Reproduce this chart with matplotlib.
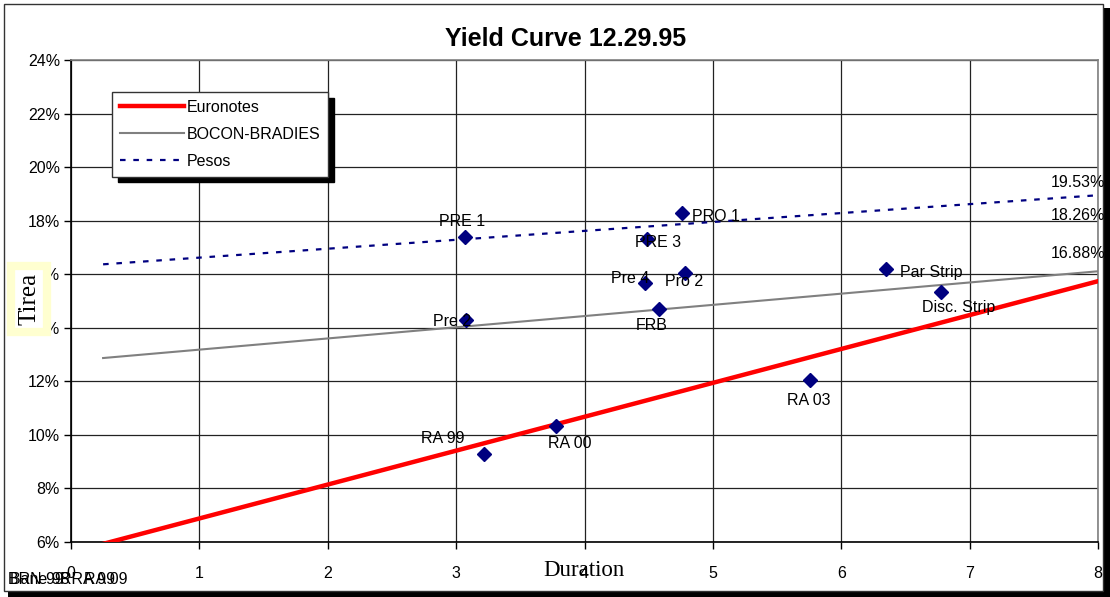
import matplotlib
matplotlib.use("Agg")
import matplotlib.pyplot as plt
from matplotlib.patches import Rectangle

plt.rcParams['font.family'] = ['Liberation Sans', 'DejaVu Sans']

# Bond points: name, duration, yield (%)
bond_names = ["PRE 1", "PRO 1", "PRE 3", "Pre 4", "Pro 2", "Pre 2", "FRB",
              "Par Strip", "Disc. Strip", "RA 99", "RA 00", "RA 03"]
bond_duration = [3.07, 4.76, 4.49, 4.47, 4.78, 3.08, 4.58, 6.35, 6.78, 3.22, 3.78, 5.76]
bond_yield = [17.38, 18.28, 17.31, 15.66, 16.04, 14.28, 14.69, 16.19, 15.33, 9.28, 10.33, 12.04]
# label offsets in pixels (dx, dy) relative to each point
label_offsets = [(-3, 16), (10, -3), (11, -3), (-15, 5), (-1, -8), (-14, -1), (-7, -16),
                 (14, -3), (17, -15), (-42, 16), (13, -17), (-2, -20)]
label_ha = ["center", "left", "center", "center", "center", "center", "center",
            "left", "center", "center", "center", "center"]

# Fitted curves: duration span and yields at both ends
curve_x = [0.25, 8.0]
euronotes_y = [5.93, 15.74]
bocon_y = [12.87, 16.11]
pesos_y = [16.37, 18.95]

end_labels = ["19.53%", "18.26%", "16.88%"]
end_label_y = [19.43, 18.20, 16.78]

x_ticks = [0, 1, 2, 3, 4, 5, 6, 7, 8]
y_ticks = [6, 8, 10, 12, 14, 16, 18, 20, 22, 24]

FS = 11.5

W, H = 1110, 597
fig = plt.figure(figsize=(W / 100, H / 100), dpi=100)
fig.patch.set_facecolor("white")

# outer chart frame with drop shadow
fig.add_artist(Rectangle((1104 / W, 0), 6 / W, 1 - 8 / H, transform=fig.transFigure,
                         facecolor="black", edgecolor="none", zorder=-1))
fig.add_artist(Rectangle((8 / W, 0), 1 - 8 / W, 6 / H, transform=fig.transFigure,
                         facecolor="black", edgecolor="none", zorder=-1))
fig.add_artist(Rectangle((4 / W, 6 / H), 1099 / W, 1 - 10 / H, transform=fig.transFigure,
                         facecolor="none", edgecolor="#333333", lw=1.0, zorder=-1))

ax = fig.add_axes([71 / W, 1 - 542 / H, (1098 - 71) / W, (542 - 60) / H])
ax.set_xlim(0, 8)
ax.set_ylim(6, 24)

ax.set_xticks(x_ticks)
ax.set_yticks(y_ticks)
ax.set_yticklabels([f"{v}%" for v in y_ticks])
ax.tick_params(axis="both", direction="out", length=5, width=1, labelsize=FS, colors="black")
ax.tick_params(axis="y", pad=3)
ax.tick_params(axis="x", pad=12)

ax.grid(True, color="#222222", lw=0.9)
ax.set_axisbelow(True)
ax.spines["left"].set_color("black")
ax.spines["bottom"].set_color("black")
ax.spines["top"].set_color("#808080")
ax.spines["right"].set_color("#808080")
for s in ax.spines.values():
    s.set_linewidth(1.2)

ax.plot(curve_x, euronotes_y, color="#ff0000", lw=3.2, label="Euronotes", zorder=3)
ax.plot(curve_x, bocon_y, color="#808080", lw=1.5, label="BOCON-BRADIES", zorder=3)
ax.plot(curve_x, pesos_y, color="#000080", lw=1.6, ls=(0, (2.5, 3.5)), label="Pesos", zorder=3)

ax.plot(bond_duration, bond_yield, ls="none", marker="D", ms=7.5, color="#000080", zorder=4)

for name, x, y, (dx, dy), ha in zip(bond_names, bond_duration, bond_yield, label_offsets, label_ha):
    ax.annotate(name, (x, y), xytext=(dx, dy), textcoords="offset pixels",
                ha=ha, va="center", fontsize=FS, color="black", zorder=5)

for txt, y in zip(end_labels, end_label_y):
    ax.annotate(txt, (8, y), xytext=(7, 0), textcoords="offset pixels",
                ha="right", va="center", fontsize=FS, color="black",
                annotation_clip=False, zorder=5)

ax.set_title("Yield Curve 12.29.95", fontsize=18, fontweight="bold", pad=10,
             x=(566 - 71) / (1098 - 71))

leg = ax.legend(loc="upper left", bbox_to_anchor=(112 / W, 1 - 92 / H),
                bbox_transform=fig.transFigure, borderaxespad=0, fontsize=FS,
                handlelength=4.0, handletextpad=0.15, labelspacing=0.75,
                borderpad=0.5, fancybox=False, frameon=True,
                shadow={"color": "black", "alpha": 1.0, "ox": 4, "oy": -4})
leg.get_frame().set_edgecolor("#333333")
leg.get_frame().set_linewidth(1.0)
leg.set_zorder(6)

# axis titles
fig.text(29 / W, 1 - 299 / H, "Tirea", rotation=90, ha="center", va="center",
         fontsize=18, family="Liberation Serif",
         bbox=dict(facecolor="white", edgecolor="#ffffd0", lw=6, pad=5))
fig.text(584 / W, 1 - 571 / H, "Duration", ha="center", va="center",
         fontsize=16.5, family="Liberation Serif")

# overlapping category labels at lower left
for txt, x in zip(["BRN 99", "Bane 98", "RRA 99", "RA 09"], [8, 10, 60, 84]):
    fig.text(x / W, 1 - 580 / H, txt, ha="left", va="center", fontsize=FS)

fig.savefig("out.png", dpi=100)
